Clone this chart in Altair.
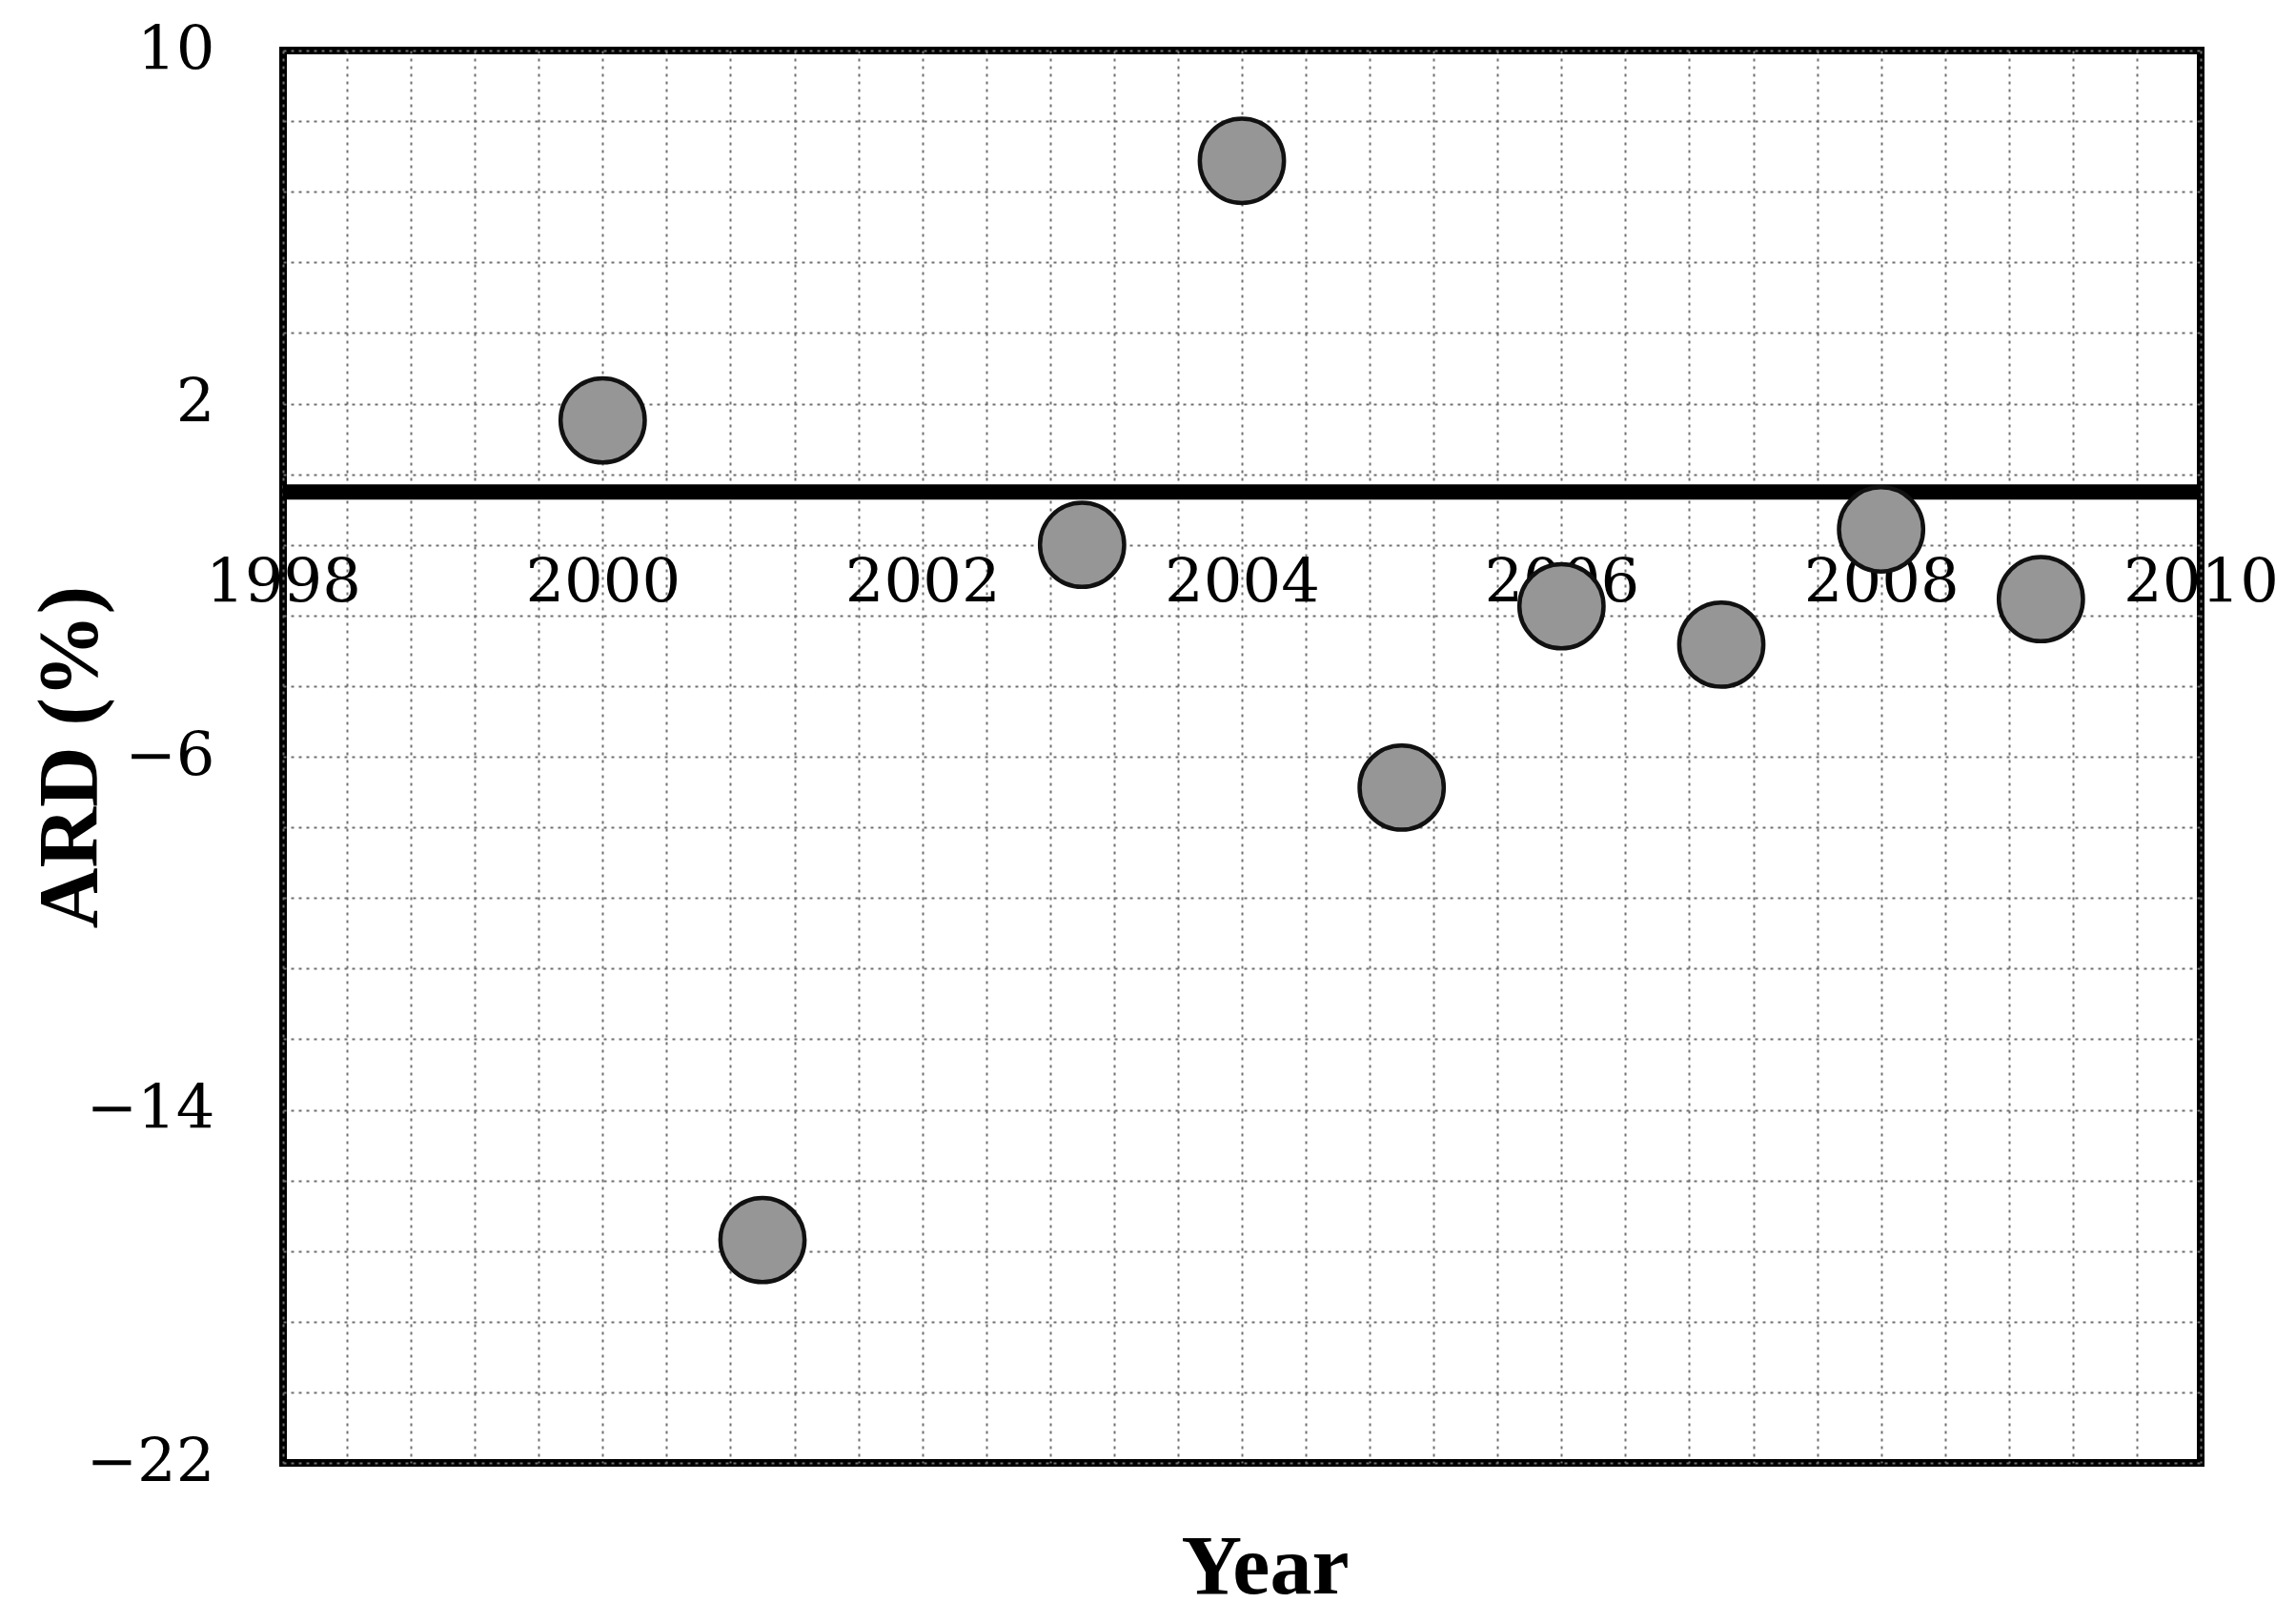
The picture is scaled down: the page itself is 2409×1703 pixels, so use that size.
import altair as alt
import pandas as pd

# ---- data ----
years = [2000, 2001, 2003, 2004, 2005, 2006, 2007, 2008, 2009]
ard = [1.62, -16.95, -1.2, 7.5, -6.7, -2.59, -3.46, -0.85, -2.43]

x_tick_labels = [1998, 2000, 2002, 2004, 2006, 2008, 2010]
y_tick_labels = [10, 2, -6, -14, -22]
zero_line = [0]

# minor grid: each labelled interval split into 5
def subdivide(ticks, n=5):
    out = []
    for a, b in zip(ticks[:-1], ticks[1:]):
        for k in range(n):
            out.append(round(a + (b - a) * k / n, 3))
    out.append(ticks[-1])
    return out

x_grid = subdivide(x_tick_labels)
y_grid = subdivide(y_tick_labels)

W, H = 2012, 1482
x_dom = [min(x_tick_labels), max(x_tick_labels)]
y_dom = [min(y_tick_labels), max(y_tick_labels)]
y0_px = H * (y_dom[1] - 0) / (y_dom[1] - y_dom[0])
x_offset = -(H - y0_px)

pts = pd.DataFrame({"year": years, "ard": ard})
zl = pd.DataFrame({"ard": zero_line})

label_font = "DejaVu Serif"
title_font = "Liberation Serif"

x_label_expr = "indexof(%s, datum.value) >= 0 ? format(datum.value, 'd') : ''" % str(x_tick_labels)
y_label_expr = "indexof(%s, datum.value) >= 0 ? format(datum.value, 'd') : ''" % str(y_tick_labels)

grid_kw = dict(grid=True, gridColor="#707070", gridDash=[3, 5], gridWidth=2)

x_enc = alt.X(
    "year:Q",
    scale=alt.Scale(domain=x_dom, nice=False, zero=False),
    axis=alt.Axis(
        title="Year",
        values=x_grid,
        tickCount=len(x_grid),
        tickMinStep=0.1,
        labelExpr=x_label_expr,
        labelFont=label_font,
        labelFontSize=64,
        labelColor="black",
        labelPadding=64,
        labelFlush=False,
        labelOverlap=False,
        ticks=False,
        tickSize=0,
        domain=False,
        offset=x_offset,
        titleFont=title_font,
        titleFontSize=88,
        titleFontWeight="bold",
        titleColor="black",
        titleX=1030,
        titleY=1155,
        titleAlign="center",
        titleBaseline="alphabetic",
        **grid_kw,
    ),
)

y_axis = alt.Axis(
    title="ARD (%)",
    values=y_grid,
    tickCount=len(y_grid),
    tickMinStep=0.1,
    labelExpr=y_label_expr,
    labelFont=label_font,
    labelFontSize=64,
    labelColor="black",
    labelPadding=72,
    labelFlush=False,
    labelOverlap=False,
    ticks=False,
    tickSize=0,
    domain=False,
    titleFont=title_font,
    titleFontSize=88,
    titleFontWeight="bold",
    titleColor="black",
    titleX=-223,
    titleY=H / 2,
    titleAngle=270,
    titleAlign="center",
    titleBaseline="middle",
    **grid_kw,
)
y_scale = alt.Scale(domain=y_dom, nice=False, zero=False)

rule = alt.Chart(zl).mark_rule(color="black", strokeWidth=16).encode(
    y=alt.Y("ard:Q", scale=y_scale, axis=y_axis)
)

points = alt.Chart(pts).mark_circle(
    size=7800, color="#969696", stroke="#111111", strokeWidth=4.5, opacity=1
).encode(
    x=x_enc,
    y=alt.Y("ard:Q", scale=y_scale, axis=y_axis),
)

chart = (
    alt.layer(rule, points)
    .properties(
        width=W,
        height=H,
        autosize=alt.AutoSizeParams(type="none"),
        padding={"left": 289, "top": 45, "right": 92, "bottom": 160},
        background="white",
    )
    .configure_view(stroke="black", strokeWidth=8, fill="white")
)

chart.save("out.html", embed_options={"renderer": "svg", "actions": False})
